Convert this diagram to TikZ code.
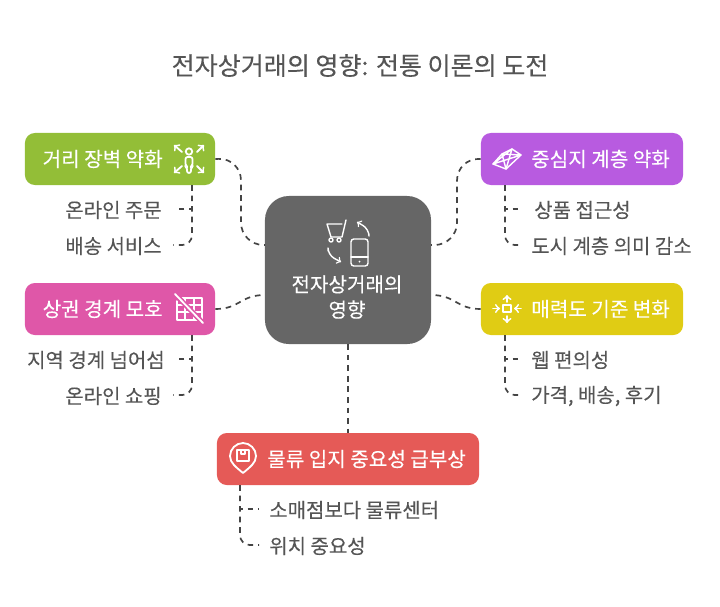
\documentclass[tikz,border=0pt]{standalone}
\usepackage{fontspec}
\setmainfont{Noto Sans CJK KR}
\newfontfamily\hangulfont[FakeBold=0.18]{Noto Sans CJK KR}
\definecolor{hubgray}{HTML}{666666}
\definecolor{leafgreen}{HTML}{93BE37}
\definecolor{rosepink}{HTML}{DF57A8}
\definecolor{violet}{HTML}{B85BE0}
\definecolor{mustard}{HTML}{E0CC14}
\definecolor{coral}{HTML}{E55A57}
\definecolor{inkgray}{HTML}{555555}
\definecolor{linkgray}{HTML}{444444}

\begin{document}
\begin{tikzpicture}[
  x=0.025cm, y=-0.025cm,
  box/.style = {rectangle, rounded corners=7pt, minimum width=4.75cm, minimum height=1.3cm, inner sep=0pt},
  boxtext/.style = {text=white, inner sep=0pt, font=\hangulfont\fontsize{14.3pt}{17pt}\selectfont},
  leaf/.style = {text=inkgray, inner sep=0pt, font=\hangulfont\fontsize{14.2pt}{17pt}\selectfont},
  link/.style = {draw=linkgray, line width=1.2pt, dash pattern=on 4pt off 3.5pt},
  icon/.style = {draw=white, line width=1.3pt, line cap=round, line join=round}
]
\useasboundingbox (0,0) rectangle (720,606);

\node[inner sep=0pt, text=inkgray, font=\hangulfont\fontsize{17.8pt}{21pt}\selectfont] (title) at (360,65.5) {전자상거래의 영향: 전통 이론의 도전};

% Centre
\node[rectangle, rounded corners=17pt, fill=hubgray, minimum width=4.15cm, minimum height=3.7cm] (hub) at (348,270) {};
\node[boxtext, align=center] (hubtext) at (347,297) {전자상거래의\\[1pt]영향};

% Coloured boxes
\node[box, fill=leafgreen] (distance) at (120,159) {};
\node[box, fill=rosepink] (trade) at (120,309) {};
\node[box, fill=violet, minimum width=5.05cm] (central) at (582,159) {};
\node[box, fill=mustard, minimum width=5.05cm] (appeal) at (582,309) {};
\node[box, fill=coral, minimum width=6.55cm] (logistics) at (348,459) {};

% Box texts
\node[boxtext, anchor=east] (distancetext) at (163,159) {거리 장벽 약화};
\node[boxtext, anchor=east] (tradetext) at (163,309) {상권 경계 모호};
\node[boxtext, anchor=west] (centraltext) at (531,159) {중심지 계층 약화};
\node[boxtext, anchor=west] (appealtext) at (531,309) {매력도 기준 변화};
\node[boxtext, anchor=west] (logisticstext) at (267,459) {물류 입지 중요성 급부상};

% Leaves
\node[leaf, anchor=east] (order) at (162,210) {온라인 주문};
\node[leaf, anchor=east] (delivery) at (162,246) {배송 서비스};
\node[leaf, anchor=east] (beyond) at (165,360) {지역 경계 넘어섬};
\node[leaf, anchor=east] (shopping) at (162,396) {온라인 쇼핑};
\node[leaf, anchor=west] (access) at (534,210) {상품 접근성};
\node[leaf, anchor=west] (meaning) at (531,246) {도시 계층 의미 감소};
\node[leaf, anchor=west] (web) at (531,360) {웹 편의성};
\node[leaf, anchor=west] (price) at (531,396) {가격, 배송, 후기};
\node[leaf, anchor=west] (retail) at (269,510) {소매점보다 물류센터};
\node[leaf, anchor=west] (place) at (269,546) {위치 중요성};

% Branch points
\coordinate (distancefoot) at (192,185);
\coordinate (tradefoot) at (192,335);
\coordinate (centralfoot) at (505,185);
\coordinate (appealfoot) at (505,335);
\coordinate (logisticsfoot) at (240,485);

% Centre to boxes
\draw[link, rounded corners=16pt] (distance.east) -- (241,158) -- (241,245) -- (265,245);
\draw[link, rounded corners=16pt] (central.west) -- (457,158) -- (457,245) -- (431,245);
\draw[link] (trade.east) .. controls (240,309) and (240,295) .. (265,295);
\draw[link] (appeal.west) .. controls (456,309) and (456,295) .. (431,295);
\draw[link] (hub.south) -- (logistics.north);

% Boxes to leaves
\draw[link] (distancefoot) |- ([xshift=9pt,yshift=0.7pt]order.east);
\draw[link, rounded corners=7pt] (distancefoot) |- ([xshift=8pt,yshift=0.7pt]delivery.east);
\draw[link] (tradefoot) |- ([xshift=7pt,yshift=0.7pt]beyond.east);
\draw[link, rounded corners=7pt] (tradefoot) |- ([xshift=8pt,yshift=0.7pt]shopping.east);
\draw[link] (centralfoot) |- ([xshift=-8pt,yshift=0.7pt]access.west);
\draw[link, rounded corners=7pt] (centralfoot) |- ([xshift=-6pt,yshift=0.7pt]meaning.west);
\draw[link] (appealfoot) |- ([xshift=-6pt,yshift=0.7pt]web.west);
\draw[link, rounded corners=7pt] (appealfoot) |- ([xshift=-6pt,yshift=0.7pt]price.west);
\draw[link] (logisticsfoot) |- ([xshift=-7pt,yshift=0.7pt]retail.west);
\draw[link, rounded corners=7pt] (logisticsfoot) |- ([xshift=-7pt,yshift=0.7pt]place.west);

% Icon: person with arrows
\draw[icon, ->] (182,152) -- (174,145);
\draw[icon, ->] (197,152) -- (204,145);
\draw[icon, ->] (182,166) -- (174,173);
\draw[icon, ->] (197,166) -- (204,173);
\draw[icon] (189,151.5) circle (3.2);
\draw[icon, rounded corners=1.5pt] (185.5,166) -- (185.5,157) -- (192.5,157) -- (192.5,166) -- (191,167) -- (191,173) -- (187,173) -- (187,167) -- cycle;

% Icon: grid with slash
\draw[icon] (177,301) -- (177,320) -- (202,320) -- (202,298) -- (182,298);
\draw[icon] (185,298) -- (185,320) (194,298) -- (194,320) (177,305) -- (202,305) (177,312) -- (202,312);
\draw[draw=rosepink, line width=3.6pt] (170,289) -- (206,326);
\draw[icon] (175,294) -- (203,323);

% Icon: network
\draw[icon, line width=1pt] (493,164) -- (502,154) -- (512,149) -- (521,155) -- (506,169) -- cycle;
\draw[icon, line width=1pt] (493,164) -- (521,155) (502,154) -- (506,169) -- (512,149) (493,164) -- (512,149) (502,154) -- (521,155);

% Icon: arrows to square
\draw[icon] (503,305) rectangle (511,312);
\draw[icon, ->] (507,302) -- (507,295);
\draw[icon, ->] (507,316) -- (507,323);
\draw[icon, ->] (493,308.5) -- (500,308.5);
\draw[icon, ->] (521,308.5) -- (514,308.5);

% Icon: pin with parcel
\draw[icon] (243,473) .. controls (236,467) and (230,463) .. (230,456) .. controls (230,449) and (236,443) .. (243,443) .. controls (250,443) and (256,449) .. (256,456) .. controls (256,463) and (250,467) .. (243,473) -- cycle;
\draw[icon, line width=0.9pt] (237,450) rectangle (249,461);
\draw[icon, line width=0.9pt] (241,450) -- (241,454) -- (245,454) -- (245,450);

% Icon: cart and phone
\draw[icon, line width=1pt] (327,224) -- (342,224) (327,224) -- (331,237) -- (342,237) -- (346,220);
\draw[icon, line width=1pt] (331,240) circle (2) (339,240) circle (2);
\draw[icon, line width=1pt, rounded corners=2pt] (351,239) rectangle (368,266);
\draw[icon, line width=1pt] (351,257) -- (368,257);
\fill[white] (359.5,261.5) circle (1);
\draw[icon, line width=1pt, ->, rounded corners=5pt] (369,234) -- (369,229) -- (357,222);
\draw[icon, line width=1pt, ->, rounded corners=5pt] (328,251) -- (328,255) -- (341,262);
\end{tikzpicture}
\end{document}
